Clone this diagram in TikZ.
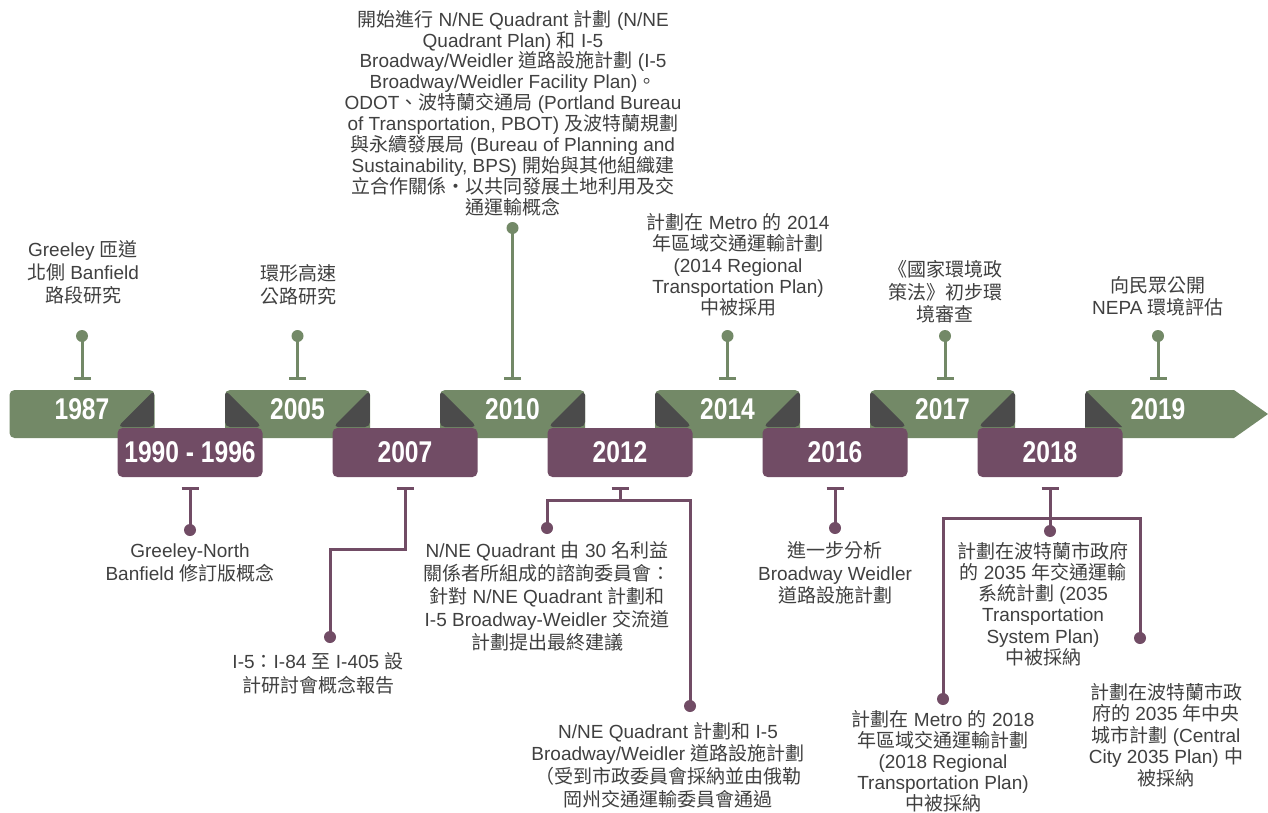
\documentclass[tikz,border=0pt]{standalone}
\usepackage{fontspec}
\setmainfont{Liberation Sans}
\newfontfamily\cjk{Noto Sans CJK TC}
\newfontfamily\yearfont[FakeStretch=0.82]{Liberation Sans Bold}
\usetikzlibrary{arrows.meta}
\newcommand\zh[1]{{\cjk #1}}
\definecolor{tgreen}{HTML}{738967}
\definecolor{tpurple}{HTML}{714C65}
\definecolor{tdark}{HTML}{4B4B4B}
\definecolor{ttext}{HTML}{404040}
\tikzset{
  gbox/.style={fill=tgreen, rounded corners=5pt, minimum width=145pt, minimum height=48pt, inner sep=0pt},
  foldR/.style={path picture={\fill[tdark] (path picture bounding box.north east) -- ++(0,37) -- ++(-37,0) -- cycle;}},
  foldLR/.style={path picture={
      \fill[tdark] (path picture bounding box.north east) -- ++(0,37) -- ++(-37,0) -- cycle;
      \fill[tdark] (path picture bounding box.north west) -- ++(0,37) -- ++(37,0) -- cycle;}},
  pbox/.style={fill=tpurple, rounded corners=5pt, minimum width=145pt, minimum height=49pt, inner sep=0pt,
    text=white, font=\yearfont\fontsize{30}{30}\selectfont},
  gyear/.style={text=white, inner sep=0pt, font=\yearfont\fontsize{30}{30}\selectfont},
  txt/.style={text=ttext, align=center, inner sep=0pt, font=\fontsize{19}{#1}\selectfont},
  txt/.default={21.5},
  gstem/.style={draw=tgreen, line width=3pt},
  pstem/.style={draw=tpurple, line width=3pt},
  gdot/.style={circle, fill=tgreen, minimum size=12pt, inner sep=0pt},
  pdot/.style={circle, fill=tpurple, minimum size=12pt, inner sep=0pt},
  tbar/.style={-{Bar[width=17pt]}},
  sbar/.style={{Bar[width=17pt]}-},
}
\begin{document}
\begin{tikzpicture}[x=1pt,y=-1pt]
\useasboundingbox (0,0) rectangle (1268,813);
\fill[white] (0,0) rectangle (1268,813);

% green band
\node[gbox,foldR]  (g1987) at (82,414) {};
\node[gbox,foldLR] (g2005) at (297.5,414) {};
\node[gbox,foldLR] (g2010) at (512.5,414) {};
\node[gbox,foldLR] (g2014) at (727.5,414) {};
\node[gbox,foldLR] (g2017) at (942.5,414) {};
\begin{scope}
  \path[clip] (1268,414) -- (1234,438) [rounded corners=5pt] -- (1085,438) -- (1085,390) [sharp corners] -- (1234,390) -- cycle;
  \fill[tgreen] (1060,380) rectangle (1270,450);
  \fill[tdark] (1085,390) -- (1085,427) -- (1122,427) -- cycle;
\end{scope}

% purple boxes
\node[pbox] (p1990) at (190,452.5) {1990 - 1996};
\node[pbox] (p2007) at (405,452.5) {2007};
\node[pbox] (p2012) at (620,452.5) {2012};
\node[pbox] (p2016) at (835,452.5) {2016};
\node[pbox] (p2018) at (1050,452.5) {2018};

% green year labels
\node[gyear] (y1987) at (82,409) {1987};
\node[gyear] (y2005) at (297.5,409) {2005};
\node[gyear] (y2010) at (512.5,409) {2010};
\node[gyear] (y2014) at (727.5,409) {2014};
\node[gyear] (y2017) at (942.5,409) {2017};
\node[gyear] (y2019) at (1158,409) {2019};

% top ticks
\node[gdot] (d1987) at (82,336) {};     \coordinate (b1987) at (82,380);
\node[gdot] (d2005) at (297.5,336) {};  \coordinate (b2005) at (297.5,380);
\node[gdot] (d2010) at (512.5,228) {};  \coordinate (b2010) at (512.5,380);
\node[gdot] (d2014) at (727.5,336) {};  \coordinate (b2014) at (727.5,380);
\node[gdot] (d2017) at (945,336) {};    \coordinate (b2017) at (945,380);
\node[gdot] (d2019) at (1158,336) {};   \coordinate (b2019) at (1158,380);
\foreach \n in {1987,2005,2010,2014,2017,2019}
  \draw[gstem,tbar] (d\n.center) -- (b\n);

% bottom ticks
\coordinate (b1990) at (190,487);  \node[pdot] (d1990) at (190,530) {};
\draw[pstem,sbar] (b1990) -- (d1990.center);

\coordinate (b2007) at (405,487);  \coordinate (j2007) at (330,549);
\node[pdot] (d2007) at (330,637) {};
\draw[pstem,sbar] (b2007) |- (j2007) -- (d2007.center);

\coordinate (b2012) at (620,487);  \coordinate (j2012) at (620,500);
\node[pdot] (d2012a) at (547,528) {};
\node[pdot] (d2012b) at (690,706) {};
\draw[pstem,sbar] (b2012) -- (j2012);
\draw[pstem] (d2012a.center) |- (j2012) -| (d2012b.center);

\coordinate (b2016) at (835,487);  \node[pdot] (d2016) at (835,528) {};
\draw[pstem,sbar] (b2016) -- (d2016.center);

\coordinate (b2018) at (1050,487); \coordinate (j2018) at (1050,518);
\node[pdot] (d2018m) at (1050,531) {};
\node[pdot] (d2018a) at (943,699) {};
\node[pdot] (d2018c) at (1140,638) {};
\draw[pstem,sbar] (b2018) -- (d2018m.center);
\draw[pstem] (d2018a.center) |- (j2018) -| (d2018c.center);

% top texts
\node[txt=23] (t1987) at (83,272) {Greeley \zh{匝道}\\\zh{北側} Banfield\\\zh{路段研究}};
\node[txt=23.5] (t2005) at (298,285) {\zh{環形高速}\\\zh{公路研究}};
\node[txt=20.9] (t2010) at (513,113) {\zh{開始進行} N/NE Quadrant \zh{計劃} (N/NE\\
Quadrant Plan) \zh{和} I-5\\
Broadway/Weidler \zh{道路設施計劃} (I-5\\
Broadway/Weidler Facility Plan)\zh{。}\\
ODOT\zh{、波特蘭交通局} (Portland Bureau\\
of Transportation, PBOT) \zh{及波特蘭規劃}\\
\zh{與永續發展局} (Bureau of Planning and\\
Sustainability, BPS) \zh{開始與其他組織建}\\
\zh{立合作關係・以共同發展土地利用及交}\\
\zh{通運輸概念}};
\node[txt=21.3] (t2014) at (738,265) {\zh{計劃在} Metro \zh{的} 2014\\\zh{年區域交通運輸計劃}\\(2014 Regional\\Transportation Plan)\\\zh{中被採用}};
\node[txt=22.5] (t2017) at (945,292) {\zh{《國家環境政}\\\zh{策法》初步環}\\\zh{境審查}};
\node[txt=22] (t2019) at (1158,296) {\zh{向民眾公開}\\NEPA \zh{環境評估}};

% bottom texts
\node[txt=23] (t1990) at (190,563) {Greeley-North\\Banfield \zh{修訂版概念}};
\node[txt=24] (t2007) at (318,673) {I-5\zh{：}I-84 \zh{至} I-405 \zh{設}\\\zh{計研討會概念報告}};
\node[txt=23] (t2012a) at (547,596) {N/NE Quadrant \zh{由} 30 \zh{名利益}\\\zh{關係者所組成的諮詢委員會：}\\\zh{針對} N/NE Quadrant \zh{計劃和}\\I-5 Broadway-Weidler \zh{交流道}\\\zh{計劃提出最終建議}};
\node[txt=22.7] (t2012b) at (668,765) {N/NE Quadrant \zh{計劃和} I-5\\Broadway/Weidler \zh{道路設施計劃}\\\zh{（受到市政委員會採納並由俄勒}\\\zh{岡州交通運輸委員會通過}};
\node[txt=22.5] (t2016) at (835,573) {\zh{進一步分析}\\Broadway Weidler\\\zh{道路設施計劃}};
\node[txt=21.2] (t2018m) at (1043,604) {\zh{計劃在波特蘭市政府}\\\zh{的} 2035 \zh{年交通運輸}\\\zh{系統計劃} (2035\\Transportation\\System Plan)\\\zh{中被採納}};
\node[txt=21] (t2018a) at (943,761) {\zh{計劃在} Metro \zh{的} 2018\\\zh{年區域交通運輸計劃}\\(2018 Regional\\Transportation Plan)\\\zh{中被採納}};
\node[txt=21.5] (t2018c) at (1166,735) {\zh{計劃在波特蘭市政}\\\zh{府的} 2035 \zh{年中央}\\\zh{城市計劃} (Central\\City 2035 Plan) \zh{中}\\\zh{被採納}};
\end{tikzpicture}
\end{document}
